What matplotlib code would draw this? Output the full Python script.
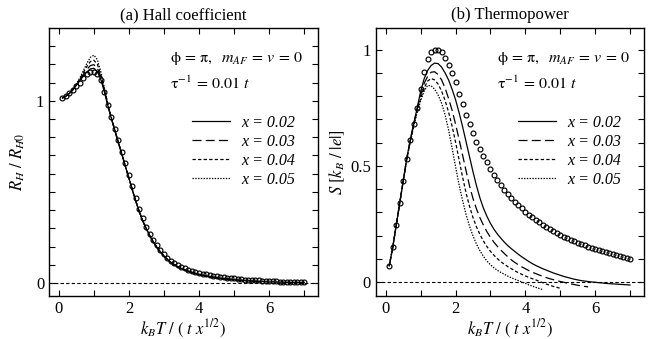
import numpy as np
import matplotlib
matplotlib.use('Agg')
import matplotlib.pyplot as plt

plt.rcParams['font.family'] = ['Liberation Serif', 'DejaVu Serif']
plt.rcParams['mathtext.fontset'] = 'stix'
plt.rcParams['lines.scale_dashes'] = False

# k_B T / (t x^1/2) sampling grid
kT = np.round(np.arange(1, 71) * 0.1, 1)

labels = ['x = 0.02', 'x = 0.03', 'x = 0.04', 'x = 0.05']

# --- (a) Hall coefficient R_H / R_H0 ---
RH_circ = [1.015, 1.025, 1.04, 1.06, 1.08, 1.10, 1.125, 1.145, 1.158, 1.16,
           1.145, 1.115, 1.05, 0.975, 0.91, 0.845, 0.785, 0.72, 0.66, 0.595,
           0.53, 0.465, 0.405, 0.355, 0.31, 0.27, 0.235, 0.207, 0.183, 0.16,
           0.14, 0.124, 0.111, 0.10, 0.09, 0.081, 0.074, 0.068, 0.062, 0.057,
           0.052, 0.048, 0.044, 0.041, 0.038, 0.035, 0.032, 0.03, 0.028, 0.026,
           0.024, 0.022, 0.02, 0.019, 0.017, 0.016, 0.015, 0.014, 0.013, 0.012,
           0.011, 0.01, 0.009, 0.008, 0.008, 0.007, 0.006, 0.006, 0.005, 0.005]

RH_002 = [1.015, 1.025, 1.04, 1.06, 1.085, 1.11, 1.135, 1.158, 1.175, 1.178,
          1.16, 1.115, 1.048, 0.972, 0.902, 0.835, 0.77, 0.705, 0.64, 0.575,
          0.51, 0.447, 0.39, 0.34, 0.297, 0.258, 0.225, 0.196, 0.171, 0.149,
          0.13, 0.114, 0.101, 0.09, 0.08, 0.072, 0.065, 0.059, 0.053, 0.048,
          0.044, 0.04, 0.036, 0.033, 0.03, 0.027, 0.025, 0.023, 0.021, 0.019,
          0.017, 0.016, 0.014, 0.013, 0.012, 0.011, 0.01, 0.009, 0.008, 0.007,
          0.007, 0.006, 0.006, 0.005, 0.005, 0.004, 0.004, 0.004, 0.003, 0.003]
RH_003 = [1.015, 1.025, 1.04, 1.06, 1.087, 1.115, 1.145, 1.172, 1.193, 1.198,
          1.178, 1.128, 1.055, 0.975, 0.902, 0.835, 0.77, 0.705, 0.64, 0.575,
          0.51, 0.447, 0.39, 0.34, 0.297, 0.258, 0.225, 0.196, 0.171, 0.149,
          0.13, 0.114, 0.101, 0.09, 0.08, 0.072, 0.065, 0.059, 0.053, 0.048,
          0.044, 0.04, 0.036, 0.033, 0.03, 0.027, 0.025, 0.023, 0.021, 0.019,
          0.017, 0.016, 0.014, 0.013, 0.012, 0.011, 0.01, 0.009]
RH_004 = [1.015, 1.025, 1.04, 1.06, 1.09, 1.12, 1.155, 1.188, 1.215, 1.222,
          1.20, 1.142, 1.062, 0.978, 0.905, 0.837, 0.771, 0.706, 0.641, 0.576,
          0.511, 0.448, 0.39, 0.34, 0.297, 0.258, 0.225, 0.196, 0.171, 0.149,
          0.13, 0.114, 0.101, 0.09, 0.08, 0.072, 0.065, 0.059, 0.053, 0.048,
          0.044, 0.04, 0.036, 0.033, 0.03, 0.027, 0.025, 0.023, 0.021, 0.019]
RH_005 = [1.015, 1.025, 1.04, 1.06, 1.092, 1.125, 1.165, 1.205, 1.238, 1.25,
          1.225, 1.158, 1.07, 0.982, 0.908, 0.839, 0.772, 0.707, 0.642, 0.577,
          0.512, 0.448, 0.39, 0.34, 0.297, 0.258, 0.225, 0.196, 0.171, 0.149,
          0.13, 0.114, 0.101, 0.09, 0.08, 0.072, 0.065, 0.059, 0.053, 0.048,
          0.044, 0.04, 0.036, 0.033, 0.03]

# --- (b) Thermopower S [k_B/|e|] ---
S_circ = [0.07, 0.15, 0.245, 0.34, 0.435, 0.53, 0.61, 0.68, 0.75, 0.83,
          0.905, 0.96, 0.99, 1.0, 1.0, 0.99, 0.965, 0.935, 0.90, 0.86,
          0.81, 0.765, 0.72, 0.68, 0.64, 0.605, 0.573, 0.543, 0.515, 0.488,
          0.463, 0.44, 0.418, 0.398, 0.38, 0.363, 0.347, 0.332, 0.318, 0.304,
          0.291, 0.279, 0.268, 0.257, 0.247, 0.237, 0.228, 0.219, 0.211, 0.203,
          0.196, 0.189, 0.182, 0.176, 0.17, 0.164, 0.158, 0.153, 0.148, 0.143,
          0.138, 0.133, 0.129, 0.124, 0.12, 0.116, 0.112, 0.108, 0.103, 0.098]

S_002 = [0.07, 0.15, 0.245, 0.34, 0.435, 0.53, 0.61, 0.68, 0.75, 0.82,
         0.875, 0.91, 0.932, 0.942, 0.94, 0.925, 0.90, 0.87, 0.83, 0.785,
         0.73, 0.67, 0.605, 0.54, 0.475, 0.415, 0.362, 0.318, 0.283, 0.253,
         0.228, 0.207, 0.189, 0.172, 0.157, 0.144, 0.132, 0.12, 0.109, 0.099,
         0.089, 0.08, 0.072, 0.065, 0.058, 0.052, 0.046, 0.04, 0.035, 0.03,
         0.025, 0.021, 0.017, 0.013, 0.01, 0.007, 0.005, 0.003, 0.001, 0.0,
         -0.002, -0.003, -0.005, -0.006, -0.007, -0.008, -0.009, -0.01, -0.011, -0.012]
S_003 = [0.07, 0.15, 0.245, 0.34, 0.435, 0.53, 0.61, 0.68, 0.745, 0.805,
         0.855, 0.885, 0.903, 0.905, 0.893, 0.87, 0.835, 0.79, 0.74, 0.68,
         0.615, 0.548, 0.48, 0.415, 0.36, 0.315, 0.277, 0.245, 0.217, 0.193,
         0.172, 0.154, 0.138, 0.123, 0.109, 0.096, 0.085, 0.075, 0.066, 0.058,
         0.05, 0.043, 0.037, 0.031, 0.025, 0.02, 0.015, 0.011, 0.007, 0.003,
         0.0, -0.004, -0.007, -0.01, -0.013, -0.016, -0.018, -0.02]
S_004 = [0.07, 0.15, 0.245, 0.34, 0.435, 0.53, 0.605, 0.675, 0.738, 0.79,
         0.835, 0.865, 0.876, 0.87, 0.852, 0.822, 0.782, 0.732, 0.672, 0.603,
         0.528, 0.453, 0.385, 0.327, 0.278, 0.238, 0.205, 0.177, 0.153, 0.133,
         0.116, 0.101, 0.088, 0.077, 0.067, 0.058, 0.049, 0.041, 0.034, 0.027,
         0.021, 0.015, 0.01, 0.004, -0.002, -0.008, -0.013, -0.018, -0.022, -0.026]
S_005 = [0.07, 0.15, 0.245, 0.34, 0.435, 0.525, 0.60, 0.67, 0.73, 0.78,
         0.822, 0.846, 0.845, 0.83, 0.805, 0.77, 0.72, 0.655, 0.578, 0.497,
         0.42, 0.352, 0.292, 0.241, 0.199, 0.164, 0.135, 0.111, 0.091, 0.075,
         0.062, 0.051, 0.042, 0.034, 0.026, 0.019, 0.013, 0.007, 0.001, -0.005,
         -0.011, -0.017, -0.022, -0.027, -0.032]

styles = [dict(linestyle='-'),
          dict(dashes=(6.5, 3)),
          dict(dashes=(2.4, 1.6)),
          dict(dashes=(1.0, 1.0))]

fig = plt.figure(figsize=(6.58, 3.39), dpi=100)
axA = fig.add_axes([0.0745, 0.127, 0.409, 0.791])
axB = fig.add_axes([0.5714, 0.127, 0.4073, 0.791])


def draw(ax, circ, curves, ylim, yticks, yticklabels):
    ax.axhline(0, color='k', lw=0.8, dashes=(2.4, 1.6))
    for y, lab, st in zip(curves, labels, styles):
        ax.plot(kT[:len(y)], y, color='k', lw=0.9, label=lab, **st)
    ax.plot(kT[:len(circ)], circ, 'o', ms=3.5, mfc='none', mec='k', mew=0.85)
    ax.set_xlim(-0.28, 7.4)
    ax.set_ylim(*ylim)
    ax.set_xticks([0, 2, 4, 6])
    ax.set_xticks([1, 3, 5, 7], minor=True)
    ax.set_yticks(yticks)
    ax.set_yticklabels(yticklabels)
    ax.set_yticks(np.round(np.arange(0, ylim[1], 0.1), 1), minor=True)
    ax.tick_params(which='both', direction='in', top=True, right=True,
                   labelsize=12, width=0.8, length=4)
    for s in ax.spines.values():
        s.set_linewidth(1.0)
    ax.set_xlabel(r'$k_BT\ /\ (\ t\ x^{1/2})$', fontsize=12, labelpad=1)
    ax.text(0.45, 0.885, r'$\mathrm{\phi}\,=\,\mathrm{\pi},\ \ m_{AF}\,=\,v\,=\,\mathit{0}$',
            transform=ax.transAxes, fontsize=11.5, va='center')
    ax.text(0.45, 0.79, r'$\mathrm{\tau}^{-1}\,=\,\mathit{0.01}\ t$',
            transform=ax.transAxes, fontsize=11.5, va='center')
    ax.legend(loc='upper left', bbox_to_anchor=(0.53, 0.675), frameon=False,
              borderpad=0, borderaxespad=0, handlelength=2.4, handletextpad=0.7,
              labelspacing=0.18, prop=dict(family='Liberation Serif', style='italic', size=11.5))


draw(axA, RH_circ, [RH_002, RH_003, RH_004, RH_005], (-0.07, 1.40), [0, 1], ['0', '1'])
axA.set_title('(a) Hall coefficient', fontsize=12, pad=6)
axA.set_ylabel(r'$R_H\ /\ R_{H0}$', fontsize=12, labelpad=6)

draw(axB, S_circ, [S_002, S_003, S_004, S_005], (-0.059, 1.094), [0, 0.5, 1], ['0', '0.5', '1'])
axB.set_title('(b) Thermopower', fontsize=12, pad=6)
axB.set_ylabel(r'$S\ [k_B\ /\ |e|]$', fontsize=12, labelpad=2)

fig.savefig('out.png', dpi=100)
